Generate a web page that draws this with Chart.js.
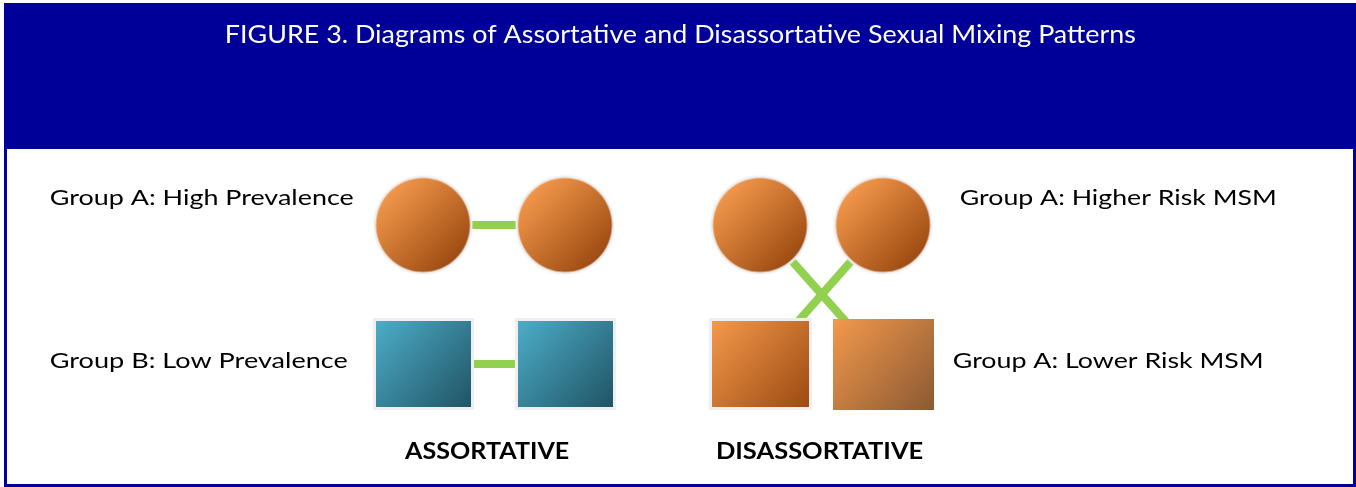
<!DOCTYPE html>
<html>
<head>
<meta charset="utf-8">
<script src="https://cdn.jsdelivr.net/npm/chart.js@4.4.1/dist/chart.umd.min.js"></script>
<style>
  html, body { margin: 0; padding: 0; background: #ffffff; }
  #wrap { width: 1356px; height: 487px; position: relative; }
</style>
</head>
<body>
<div id="wrap"><canvas id="c" width="1356" height="487"></canvas></div>
<script>
// ---------- data (diagram units) ----------
const titleText = 'FIGURE 3. Diagrams of Assortative and Disassortative Sexual Mixing Patterns';
const leftRowLabels = ['Group A: High Prevalence', 'Group B: Low Prevalence'];
const rightRowLabels = ['Group A: Higher Risk MSM', 'Group A: Lower Risk MSM'];
const panelLabels = ['ASSORTATIVE', 'DISASSORTATIVE'];

const circleX = [423, 565, 760, 883];      // top-row nodes
const circleY = [225, 225, 225, 225];
const squareX = [423.5, 565.5, 760.5, 883.5]; // bottom-row nodes
const squareY = [364, 364, 364, 364];
const squareKind = ['teal', 'teal', 'orange', 'brown'];

// links: [fromRow, fromIndex, toRow, toIndex]  row 0 = circles, 1 = squares
const links = [
  [0, 0, 0, 1],
  [1, 0, 1, 1],
  [0, 2, 1, 3],
  [0, 3, 1, 2]
];

// ---------- styles ----------
const HEADER = '#000099';
const GREEN = '#92D050';
const GRADS = {
  orange: ['#F4994C', '#9C4A12'],
  teal:   ['#4CADC8', '#205464'],
  brown:  ['#F4994C', '#8A5A32']
};

function makeCircle(r, border, grad) {
  const s = Math.ceil(2 * (r + border)) + 2;
  const cv = document.createElement('canvas');
  cv.width = s; cv.height = s;
  const g = cv.getContext('2d');
  const c = s / 2;
  const lg = g.createLinearGradient(c - r * 0.75, c - r * 0.75, c + r * 0.75, c + r * 0.75);
  lg.addColorStop(0, grad[0]); lg.addColorStop(1, grad[1]);
  g.beginPath(); g.arc(c, c, r + border, 0, Math.PI * 2);
  g.fillStyle = '#EFEFEF'; g.fill();
  g.beginPath(); g.arc(c, c, r, 0, Math.PI * 2);
  g.fillStyle = lg; g.fill();
  return cv;
}
function makeRect(w, h, border, grad) {
  const cv = document.createElement('canvas');
  cv.width = w; cv.height = h;
  const g = cv.getContext('2d');
  if (border > 0) { g.fillStyle = '#EFEFEF'; g.fillRect(0, 0, w, h); }
  const lg = g.createLinearGradient(border, border, w - border, h - border);
  lg.addColorStop(0, grad[0]); lg.addColorStop(1, grad[1]);
  g.fillStyle = lg;
  g.fillRect(border, border, w - 2 * border, h - 2 * border);
  return cv;
}

const circleImg = makeCircle(47, 2.5, GRADS.orange);
const rectImgs = {
  teal: makeRect(101, 92, 3, GRADS.teal),
  orange: makeRect(103, 92, 3, GRADS.orange),
  brown: makeRect(101, 91, 0, GRADS.brown)
};

const rows = [
  circleX.map((x, i) => ({ x, y: circleY[i] })),
  squareX.map((x, i) => ({ x, y: squareY[i] }))
];

const linkDatasets = links.map(l => ({
  type: 'scatter',
  data: [rows[l[0]][l[1]], rows[l[2]][l[3]]],
  showLine: true,
  borderColor: GREEN,
  borderWidth: 8,
  borderCapStyle: 'butt',
  pointRadius: 0,
  pointHoverRadius: 0,
  order: 2,
  clip: false
}));

const textPlugin = {
  id: 'frameAndText',
  beforeDraw(chart) {
    const ctx = chart.ctx;
    ctx.save();
    ctx.fillStyle = '#ffffff';
    ctx.fillRect(0, 0, chart.width, chart.height);
    ctx.fillStyle = HEADER;
    ctx.fillRect(4, 3, 1351, 146);
    ctx.strokeStyle = HEADER;
    ctx.lineWidth = 3;
    ctx.strokeRect(5.5, 4.5, 1349, 481);
    ctx.restore();
  },
  afterDraw(chart) {
    const ctx = chart.ctx;
    function fit(text, x, base, w, font, color) {
      ctx.save();
      ctx.font = font;
      ctx.fillStyle = color;
      ctx.textAlign = 'left';
      ctx.textBaseline = 'alphabetic';
      const m = ctx.measureText(text);
      const ink = m.actualBoundingBoxRight + m.actualBoundingBoxLeft;
      ctx.translate(x, base);
      const sx = w / ink;
      ctx.scale(sx, 1);
      ctx.fillText(text, m.actualBoundingBoxLeft, 0);
      ctx.restore();
    }
    fit(titleText, 227, 43, 908, '25px Lato', '#ffffff');
    fit(leftRowLabels[0], 51, 205, 302, '22px Lato', '#000000');
    fit(leftRowLabels[1], 51, 368, 296, '22px Lato', '#000000');
    fit(rightRowLabels[0], 961, 205, 314, '22px Lato', '#000000');
    fit(rightRowLabels[1], 954, 368, 308, '22px Lato', '#000000');
    fit(panelLabels[0], 404, 459, 165, 'bold 23px Lato', '#000000');
    fit(panelLabels[1], 717, 459, 206, 'bold 23px Lato', '#000000');
  }
};

new Chart(document.getElementById('c'), {
  type: 'scatter',
  data: {
    datasets: [
      {
        data: rows[0],
        pointStyle: circleImg,
        pointRadius: 1,
        order: 1,
        clip: false
      },
      {
        data: rows[1],
        pointStyle: squareKind.map(k => rectImgs[k]),
        pointRadius: 1,
        order: 1,
        clip: false
      },
      ...linkDatasets
    ]
  },
  options: {
    responsive: false,
    animation: false,
    events: [],
    layout: { padding: 0, autoPadding: false },
    plugins: { legend: { display: false }, tooltip: { enabled: false }, title: { display: false } },
    scales: {
      x: { type: 'linear', min: 0, max: 1356, display: false },
      y: { type: 'linear', min: 0, max: 487, reverse: true, display: false }
    }
  },
  plugins: [textPlugin]
});
</script>
</body>
</html>
